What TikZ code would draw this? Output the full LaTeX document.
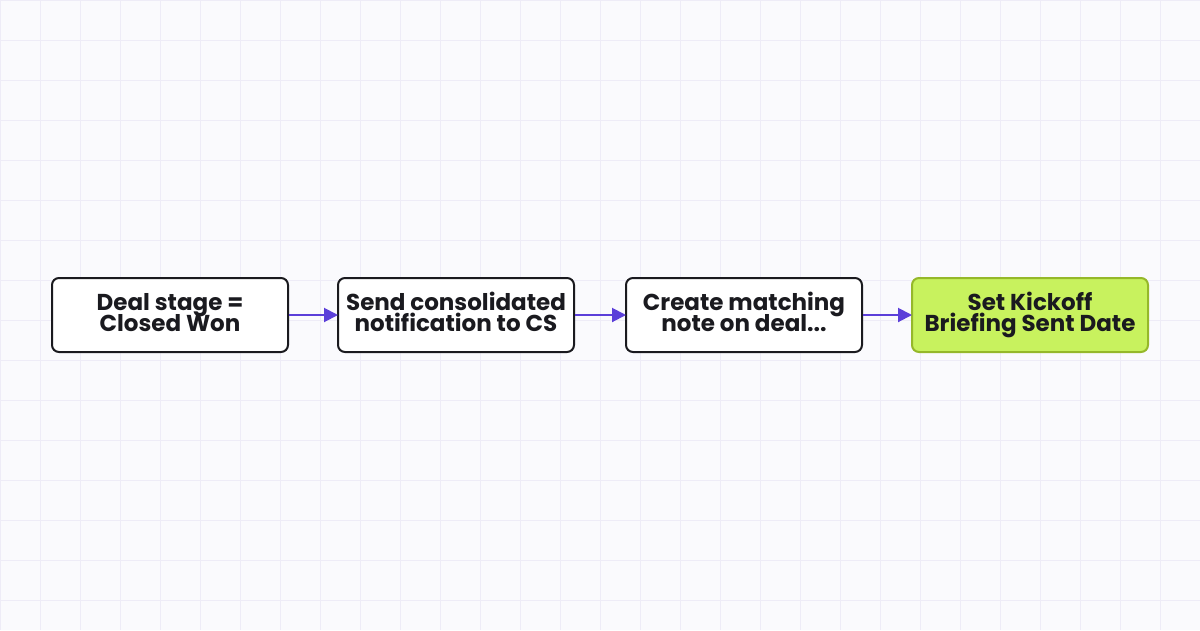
\documentclass[tikz,border=0pt]{standalone}
\usepackage{fontspec}
\setmainfont{Poppins}
\usetikzlibrary{arrows.meta}
\newcommand{\tightlines}{\setlength{\lineskiplimit}{-50pt}\setlength{\lineskip}{0pt}}
\definecolor{bgc}{HTML}{FAFAFD}
\definecolor{gridc}{HTML}{EEECF7}
\definecolor{edgec}{HTML}{5B3FD9}
\definecolor{boxline}{HTML}{1A1A1F}
\definecolor{greenfill}{HTML}{C8F25E}
\definecolor{greenline}{HTML}{95B82A}
\tikzset{
  stepbox/.style={draw=boxline, line width=2pt, fill=white, rounded corners=7pt,
    minimum width=236pt, minimum height=74pt, inner sep=0pt, align=center,
    text depth=6pt,
    font=\fontsize{23}{21}\selectfont\bfseries\tightlines, text=boxline},
  donebox/.style={stepbox, draw=greenline, fill=greenfill},
  flow/.style={draw=edgec, line width=2pt, -{Triangle[length=14pt,width=14pt]}, shorten >=-1pt}
}
\begin{document}
\begin{tikzpicture}[x=1pt,y=-1pt]
\fill[bgc] (0,0) rectangle (1200,630);
\useasboundingbox (0,0) rectangle (1200,630);
\foreach \i in {0,40,...,1200} \draw[gridc, line width=1pt] (\i,0) -- (\i,630);
\foreach \j in {0,40,...,600} \draw[gridc, line width=1pt] (0,\j) -- (1200,\j);
\node[stepbox] (a) at (170,315) {Deal stage =\\Closed Won};
\node[stepbox] (b) at (456,315) {Send consolidated\\notification to CS};
\node[stepbox] (c) at (744,315) {Create matching\\note on deal...};
\node[donebox] (d) at (1030,315) {Set Kickoff\\Briefing Sent Date};
\draw[flow] (a) -- (b);
\draw[flow] (b) -- (c);
\draw[flow] (c) -- (d);
\end{tikzpicture}
\end{document}
